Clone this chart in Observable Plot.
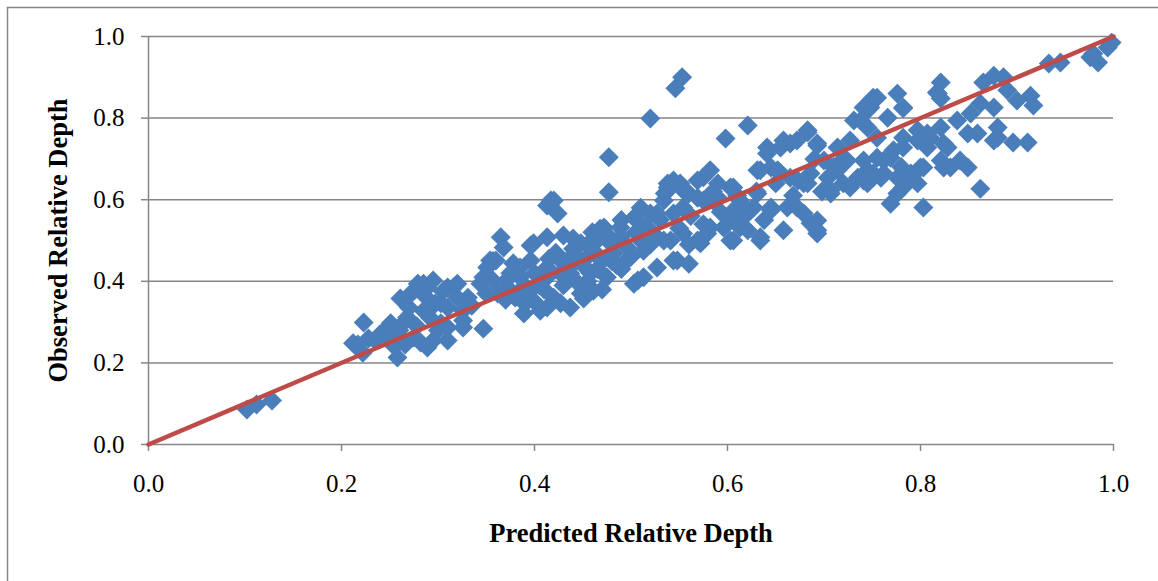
<!DOCTYPE html>
<html><head><meta charset="utf-8">
<script src="https://cdn.jsdelivr.net/npm/d3@7"></script>
<script src="https://cdn.jsdelivr.net/npm/@observablehq/plot@0.6"></script>
<style>
html,body{margin:0;padding:0;background:#fff;}
#chart{position:relative;width:1158px;height:581px;overflow:hidden;}
</style></head><body><div id="chart"></div>
<script>
// [predicted, observed] pairs, grouped by predicted range
const lowPoints = [[0.102,0.086],[0.112,0.098],[0.128,0.108]];
const band20 = [[0.212,0.248],[0.217,0.245],[0.223,0.299],[0.222,0.225],[0.228,0.26],[0.235,0.255],[0.24,0.27],[0.245,0.28],[0.248,0.262],[0.251,0.297],[0.255,0.24],[0.258,0.213],[0.26,0.28],[0.261,0.358],[0.265,0.30],[0.266,0.245],[0.268,0.311],[0.27,0.335],[0.272,0.37],[0.275,0.262],[0.275,0.377],[0.278,0.29],[0.279,0.394],[0.282,0.25],[0.285,0.328],[0.285,0.394],[0.288,0.36],[0.289,0.238],[0.289,0.385],[0.292,0.31],[0.295,0.255],[0.295,0.402],[0.297,0.345],[0.30,0.28],[0.303,0.297],[0.303,0.346],[0.305,0.375],[0.31,0.255],[0.31,0.287],[0.31,0.336],[0.31,0.385],[0.316,0.385],[0.32,0.394],[0.32,0.36],[0.326,0.287],[0.326,0.304],[0.326,0.328],[0.331,0.36],[0.335,0.34]];
const band34 = [[0.344,0.394],[0.347,0.41],[0.347,0.284],[0.35,0.37],[0.351,0.434],[0.354,0.451],[0.357,0.402],[0.357,0.45],[0.36,0.451],[0.362,0.37],[0.365,0.508],[0.368,0.483],[0.37,0.40],[0.37,0.355],[0.372,0.385],[0.375,0.42],[0.378,0.444],[0.38,0.36],[0.385,0.41],[0.385,0.434],[0.385,0.37],[0.389,0.321],[0.39,0.39],[0.39,0.345],[0.395,0.375],[0.396,0.451],[0.396,0.488],[0.399,0.493],[0.40,0.35],[0.40,0.42]];
const band40 = [[0.405,0.39],[0.406,0.328],[0.41,0.38],[0.413,0.336],[0.413,0.41],[0.413,0.434],[0.413,0.508],[0.413,0.586],[0.415,0.455],[0.417,0.598],[0.42,0.598],[0.424,0.566],[0.42,0.36],[0.422,0.47],[0.427,0.346],[0.427,0.419],[0.427,0.451],[0.43,0.512],[0.43,0.39],[0.434,0.451],[0.435,0.43],[0.437,0.336],[0.437,0.419],[0.44,0.48],[0.44,0.505],[0.443,0.40],[0.445,0.455],[0.448,0.37],[0.448,0.493],[0.45,0.44],[0.451,0.358]];
const band45 = [[0.455,0.46],[0.455,0.49],[0.455,0.40],[0.458,0.42],[0.46,0.52],[0.461,0.377],[0.461,0.475],[0.465,0.50],[0.465,0.43],[0.468,0.529],[0.47,0.45],[0.47,0.38],[0.472,0.532],[0.475,0.41],[0.475,0.515],[0.477,0.704],[0.477,0.618],[0.48,0.49],[0.48,0.45],[0.482,0.468],[0.485,0.44],[0.489,0.532],[0.49,0.51],[0.49,0.55],[0.49,0.43],[0.495,0.45],[0.496,0.483],[0.50,0.46],[0.503,0.394],[0.503,0.556],[0.505,0.52]];
const band50 = [[0.507,0.402],[0.507,0.549],[0.51,0.50],[0.51,0.58],[0.513,0.41],[0.513,0.475],[0.517,0.532],[0.52,0.799],[0.52,0.566],[0.52,0.49],[0.527,0.434],[0.527,0.508],[0.527,0.566],[0.53,0.55],[0.534,0.50],[0.534,0.598],[0.535,0.615],[0.538,0.63],[0.538,0.64],[0.541,0.50],[0.541,0.63],[0.544,0.451],[0.544,0.566],[0.544,0.647],[0.546,0.873],[0.548,0.451],[0.55,0.53],[0.551,0.64],[0.553,0.90],[0.554,0.517],[0.554,0.581],[0.554,0.623],[0.56,0.443],[0.56,0.49],[0.56,0.615]];
const band56 = [[0.562,0.56],[0.569,0.50],[0.569,0.605],[0.569,0.647],[0.572,0.493],[0.575,0.598],[0.575,0.54],[0.575,0.655],[0.579,0.517],[0.582,0.532],[0.582,0.672],[0.585,0.598],[0.585,0.62],[0.59,0.64],[0.59,0.605],[0.593,0.57],[0.596,0.532],[0.598,0.75],[0.603,0.50],[0.603,0.549],[0.603,0.566],[0.603,0.63],[0.606,0.50],[0.606,0.63],[0.61,0.61],[0.613,0.532],[0.613,0.59],[0.613,0.598],[0.618,0.56],[0.621,0.525],[0.621,0.782]];
const band62 = [[0.624,0.574],[0.627,0.581],[0.63,0.62],[0.631,0.615],[0.631,0.672],[0.634,0.50],[0.634,0.508],[0.634,0.672],[0.638,0.55],[0.641,0.713],[0.641,0.728],[0.645,0.574],[0.645,0.581],[0.645,0.679],[0.65,0.64],[0.652,0.672],[0.655,0.664],[0.655,0.728],[0.658,0.525],[0.658,0.745],[0.662,0.581],[0.665,0.654],[0.665,0.738],[0.668,0.61],[0.672,0.581],[0.672,0.745],[0.673,0.647],[0.679,0.566],[0.679,0.64],[0.683,0.64],[0.683,0.765],[0.683,0.77],[0.686,0.542],[0.686,0.664],[0.69,0.70],[0.693,0.517],[0.693,0.525],[0.693,0.549],[0.693,0.733],[0.693,0.738],[0.698,0.62]];
const band70 = [[0.70,0.696],[0.704,0.654],[0.707,0.615],[0.707,0.623],[0.71,0.68],[0.714,0.672],[0.714,0.728],[0.72,0.64],[0.72,0.70],[0.724,0.696],[0.727,0.63],[0.727,0.745],[0.731,0.794],[0.735,0.654],[0.738,0.794],[0.741,0.647],[0.741,0.696],[0.741,0.826],[0.745,0.64],[0.745,0.672],[0.745,0.777],[0.745,0.819],[0.748,0.826],[0.751,0.664],[0.751,0.843],[0.751,0.85],[0.755,0.703],[0.755,0.752],[0.755,0.85],[0.759,0.654]];
const band76 = [[0.762,0.664],[0.762,0.696],[0.766,0.801],[0.769,0.59],[0.769,0.703],[0.772,0.721],[0.776,0.615],[0.776,0.654],[0.776,0.86],[0.78,0.68],[0.782,0.63],[0.782,0.728],[0.782,0.752],[0.782,0.824],[0.782,0.826],[0.79,0.654],[0.79,0.664],[0.797,0.64],[0.797,0.745],[0.797,0.77],[0.80,0.679],[0.803,0.581],[0.803,0.679],[0.807,0.728],[0.807,0.762],[0.81,0.752],[0.817,0.863],[0.818,0.86],[0.821,0.696],[0.821,0.777],[0.821,0.848],[0.821,0.887],[0.824,0.679],[0.824,0.738],[0.828,0.728]];
const band83 = [[0.831,0.679],[0.838,0.794],[0.841,0.696],[0.849,0.679],[0.849,0.762],[0.852,0.811],[0.859,0.762],[0.862,0.627],[0.862,0.836],[0.865,0.887],[0.876,0.745],[0.876,0.826],[0.876,0.904],[0.88,0.752],[0.88,0.777],[0.886,0.90],[0.89,0.868],[0.896,0.74],[0.90,0.843],[0.911,0.74],[0.914,0.855],[0.917,0.831],[0.933,0.934],[0.945,0.936],[0.976,0.949],[0.979,0.958],[0.984,0.936],[0.994,0.973],[0.998,0.985]];

const identityLine = [0, 1];
const xTicks = [0, 0.2, 0.4, 0.6, 0.8, 1.0];
const yTicks = [0, 0.2, 0.4, 0.6, 0.8, 1.0];
const gridTicks = [0.2, 0.4, 0.6, 0.8, 1.0];
const xTitle = "Predicted Relative Depth";
const yTitle = "Observed Relative Depth";

const points = [lowPoints, band20, band34, band40, band45, band50, band56, band62, band70, band76, band83]
  .flat().map(([p, o]) => ({predicted: p, observed: o}));
const lineData = identityLine.map(v => ({predicted: v, observed: v}));

const fontFamily = "'Liberation Serif','Times New Roman',serif";
const axisGray = "#868686";

const chart = Plot.plot({
  width: 1158, height: 581,
  marginLeft: 148, marginRight: 45, marginTop: 36, marginBottom: 137,
  style: {fontFamily, fontSize: "25px", color: "#000", background: "#fff"},
  x: {domain: [0, 1]},
  y: {domain: [0, 1]},
  marks: [
    Plot.gridY(gridTicks, {stroke: axisGray, strokeOpacity: 1, strokeWidth: 1.5}),
    Plot.ruleX([0], {stroke: axisGray, strokeWidth: 1.5}),
    Plot.ruleY([0], {stroke: axisGray, strokeWidth: 1.5}),
    Plot.axisY(yTicks, {tickSize: 7, tickPadding: 17, tickFormat: d3.format(".1f"), stroke: axisGray, strokeWidth: 1.5, label: null, fontSize: 25, fill: "#000"}),
    Plot.axisX(xTicks, {tickSize: 7, tickPadding: 23, tickFormat: d3.format(".1f"), stroke: axisGray, strokeWidth: 1.5, label: null, fontSize: 25, fill: "#000"}),
    Plot.dot(points, {x: "predicted", y: "observed", symbol: "diamond2", r: 9, fill: "#4A7EBB", stroke: "none"}),
    Plot.line(lineData, {x: "predicted", y: "observed", stroke: "#BE4B48", strokeWidth: 4.5}),
    Plot.text([xTitle], {text: d => d, frameAnchor: "bottom", dy: 89.5, textAnchor: "middle", lineAnchor: "middle", fontWeight: "bold", fontSize: 26.5}),
    Plot.text([yTitle], {text: d => d, frameAnchor: "left", dx: -89.5, rotate: -90, textAnchor: "middle", lineAnchor: "middle", fontWeight: "bold", fontSize: 26.5})
  ]
});

d3.select(chart).append("rect")
  .attr("x", 7.5).attr("y", 7.5).attr("width", 1300).attr("height", 700)
  .attr("fill", "none").attr("stroke", axisGray).attr("stroke-width", 1.5);

document.getElementById("chart").appendChild(chart);
</script></body></html>
